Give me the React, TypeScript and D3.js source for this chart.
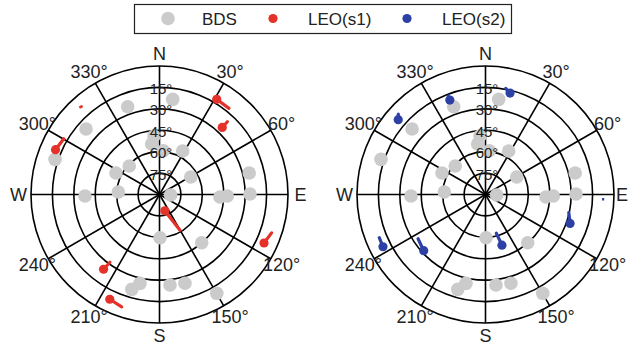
import React from 'react';
import * as d3 from 'd3';

// azimuth / elevation of the BDS satellites (same sky in both panels)
const bdsAz = [7.9, 340.1, 311.7, 288.6, 354.6, 351.2, 5.0, 28.1, 313.3, 296.3, 76.5, 60.7, 268.8, 273.5, 92.6, 92.4, 91.3, 89.7, 179.3, 138.8, 192.4, 196.3, 173.4, 164.0, 149.9];
const bdsEl = [22.7, 24.6, 21.1, 12.8, 48.8, 54.2, 59.2, 55.5, 60.9, 56.0, 25.4, 64.9, 37.8, 61.1, 82.2, 47.6, 42.5, 26.6, 59.7, 45.1, 26.3, 20.8, 26.2, 25.3, 10.0];

// LEO tracks: [az start, el start, az end, el end], dot drawn at the start
const leoS1 = [
  [31.0, 12.2, 38.9, 12.5],
  [43.1, 25.7, 43.0, 20.3],
  [293.3, 10.7, 300.2, 12.4],
  [162.0, 78.0, 150.2, 61.1],
  [114.9, 9.3, 108.9, 7.0],
  [216.8, 24.6, 216.2, 31.2],
  [205.4, 8.8, 198.6, 7.0],
];
const leoS1Short = [[317.3, 7.2, 319.0, 7.9]];

const leoS2 = [
  [13.6, 16.9, 10.8, 14.3],
  [339.3, 19.3, 339.3, 16.2],
  [310.6, 9.5, 312.7, 6.9],
  [108.9, 27.4, 102.3, 30.3],
  [162.0, 52.7, 164.4, 61.8],
  [227.7, 31.5, 236.7, 33.5],
  [243.0, 9.4, 247.9, 9.7],
];
const leoS2Short = [[92.3, 6.8, 92.3, 8.3]];

const azLabels = ['N', '30°', '60°', 'E', '120°', '150°', 'S', '210°', '240°', 'W', '300°', '330°'];
const elTicks = [15, 30, 45, 60, 75];
const ringEls = [0, 15, 30, 45, 60, 75];

const legendNames = ['BDS', 'LEO(s1)', 'LEO(s2)'];

const WIDTH = 629;
const GREY = '#cbcbcb';
const RED = '#e4322b';
const BLUE = '#2c40a6';
const FONT = '"Liberation Sans", Arial, sans-serif';

const R = 128.5;
const rScale = d3.scaleLinear().domain([90, 0]).range([0, R]);

function project(az: number, el: number): [number, number] {
  const r = rScale(el);
  const a = (az * Math.PI) / 180;
  return [r * Math.sin(a), -r * Math.cos(a)];
}

function Panel(props: { cx: number; cy: number; tracks: number[][]; shorts: number[][]; color: string }) {
  const { cx, cy, tracks, shorts, color } = props;
  const azs = d3.range(0, 360, 30);
  const rr = R + 12.5;
  return (
    <g transform={`translate(${cx},${cy})`}>
      {ringEls.map(el => (
        <circle key={el} r={rScale(el)} fill="none" stroke="#000" strokeWidth={1.6} />
      ))}
      {azs.map(a => {
        const [x, y] = project(a, 0);
        return <line key={a} x1={0} y1={0} x2={x} y2={y} stroke="#000" strokeWidth={1.6} />;
      })}
      {bdsAz.map((a, i) => {
        const [x, y] = project(a, bdsEl[i]);
        return <circle key={i} cx={x} cy={y} r={6.8} fill={GREY} />;
      })}
      {tracks.map((t, i) => {
        const [x0, y0] = project(t[0], t[1]);
        const [x1, y1] = project(t[2], t[3]);
        return (
          <g key={i}>
            <line x1={x0} y1={y0} x2={x1} y2={y1} stroke={color} strokeWidth={3.2} strokeLinecap="round" />
            <circle cx={x0} cy={y0} r={4.6} fill={color} />
          </g>
        );
      })}
      {shorts.map((t, i) => {
        const [x0, y0] = project(t[0], t[1]);
        const [x1, y1] = project(t[2], t[3]);
        return <line key={i} x1={x0} y1={y0} x2={x1} y2={y1} stroke={color} strokeWidth={2.6} />;
      })}
      {elTicks.map(el => (
        <text key={el} x={1.5} y={-rScale(el) + 1} textAnchor="middle" dominantBaseline="central"
          fontSize={15} fontFamily={FONT} fill="#222">{el}°</text>
      ))}
      {azLabels.map((lab, i) => {
        const a = (i * 30 * Math.PI) / 180;
        const x = rr * Math.sin(a);
        const y = -rr * Math.cos(a);
        // keep the label inside the picture at the right edge
        const overflow = cx + x + 7 > WIDTH;
        return (
          <text key={lab} x={overflow ? WIDTH - cx - 1 : x} y={y} textAnchor={overflow ? 'end' : 'middle'}
            dominantBaseline="central" fontSize={18} fontFamily={FONT} fill="#222">{lab}</text>
        );
      })}
    </g>
  );
}

export default function App() {
  const legendMarks = [
    { x: 168, r: 6.8, c: GREY, tx: 202 },
    { x: 273, r: 4.6, c: RED, tx: 308 },
    { x: 407, r: 4.6, c: BLUE, tx: 442 },
  ];
  return (
    <svg width={WIDTH} height={348} style={{ position: 'absolute', left: 0, top: 0, background: '#fff' }}>
      <rect x={134.5} y={4.5} width={377} height={29} fill="#fff" stroke="#222" strokeWidth={1.2} />
      {legendNames.map((n, i) => (
        <g key={n}>
          <circle cx={legendMarks[i].x} cy={18.5} r={legendMarks[i].r} fill={legendMarks[i].c} />
          <text x={legendMarks[i].tx} y={19} dominantBaseline="central" fontSize={17} fontFamily={FONT} fill="#222">{n}</text>
        </g>
      ))}
      <Panel cx={159.5} cy={194.5} tracks={leoS1} shorts={leoS1Short} color={RED} />
      <Panel cx={485.5} cy={194.5} tracks={leoS2} shorts={leoS2Short} color={BLUE} />
    </svg>
  );
}
